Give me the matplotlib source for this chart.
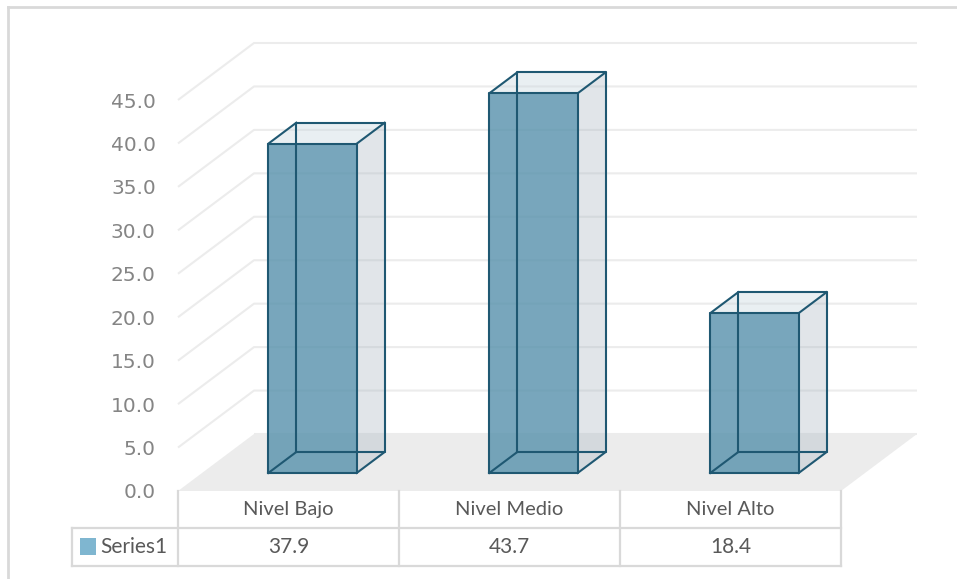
import numpy as np
import matplotlib.pyplot as plt
from matplotlib.patches import Polygon, Rectangle
from matplotlib.lines import Line2D

categories = ['Nivel Bajo', 'Nivel Medio', 'Nivel Alto']
values = [37.9, 43.7, 18.4]
series_name = 'Series1'
yticks = np.arange(0, 50, 5)

W, H = 957, 579
fig = plt.figure(figsize=(W / 100, H / 100), dpi=100)

# front plane of the plot, in pixels
x0, x1 = 178, 841
y0, y1 = 491, 100          # value 0 and value 45
ax = fig.add_axes([x0 / W, 1 - y0 / H, (x1 - x0) / W, (y0 - y1) / H])
ax.set_xlim(0, 3)
ax.set_ylim(0, 45)
for s in ax.spines.values():
    s.set_visible(False)
ax.set_xticks([])
ax.set_yticks(yticks)
ax.set_yticklabels([f'{v:.1f}' for v in yticks])
ax.tick_params(axis='y', length=0, pad=16, labelsize=14.5, labelcolor='#858585')
ax.patch.set_alpha(0)

# data units per pixel
xs = 3 / (x1 - x0)
ys = 45 / (y0 - y1)
DX, DY = 76 * xs, 57 * ys   # full depth of floor


def P(x, y, z):
    return (x + z * DX, y + z * DY)


grid_c = '#ececec'
# floor
ax.add_patch(Polygon([P(0, 0, 0), P(3, 0, 0), P(3, 0, 1), P(0, 0, 1)],
                     closed=True, fc='#ececec', ec='none', clip_on=False, zorder=1))
# gridlines: side wall diagonals + back wall
for v in yticks:
    pts = [P(0, v, 0), P(0, v, 1), P(3, v, 1)]
    if v == 0:
        pts = [P(0, v, 1), P(3, v, 1)]
    ax.plot(*zip(*pts), color=grid_c, lw=1.5, clip_on=False, zorder=2,
            solid_capstyle='butt')

# bars
bw = 0.4
zf, zb = 0.316, 0.684
edge = '#1f5872'
for i, v in enumerate(values):
    l, r = i + 0.5 - bw / 2, i + 0.5 + bw / 2
    front = [P(l, 0, zf), P(r, 0, zf), P(r, v, zf), P(l, v, zf)]
    side = [P(r, 0, zf), P(r, 0, zb), P(r, v, zb), P(r, v, zf)]
    top = [P(l, v, zf), P(r, v, zf), P(r, v, zb), P(l, v, zb)]
    ax.add_patch(Polygon(side, fc='#aab6c1', alpha=0.35, ec='none', clip_on=False, zorder=3))
    ax.add_patch(Polygon(top, fc='#c9d7df', alpha=0.4, ec='none', clip_on=False, zorder=3))
    ax.add_patch(Polygon(front, fc='#5a93ad', alpha=0.82, ec='none', clip_on=False, zorder=4))
    edges = []
    for z in (zf, zb):
        edges.append([P(l, 0, z), P(r, 0, z), P(r, v, z), P(l, v, z), P(l, 0, z)])
    for xx in (l, r):
        for yy in (0, v):
            edges.append([P(xx, yy, zf), P(xx, yy, zb)])
    for e in edges:
        ax.plot(*zip(*e), color=edge, lw=1.5, clip_on=False, zorder=5)

# data table
tc = '#d9d9d9'
tx = '#595959'
r1 = (528 - y0) * ys
r2 = (566 - y0) * ys
lx = (72 - x0) * xs
tkw = dict(color=tc, lw=1.6, clip_on=False, zorder=2)
for c in range(4):
    ax.plot([c, c], [0, -r2], **tkw)
ax.plot([lx, 3], [-r1, -r1], **tkw)
ax.plot([lx, 3], [-r2, -r2], **tkw)
ax.plot([lx, lx], [-r1, -r2], **tkw)
for i, (cat, v) in enumerate(zip(categories, values)):
    ax.text(i + 0.5, -r1 / 2, cat, ha='center', va='center', fontsize=14.5,
            color=tx, family='Lato')
    ax.text(i + 0.5, -(r1 + r2) / 2, f'{v:.1f}', ha='center', va='center',
            fontsize=15, color=tx, family='Lato')
ax.add_patch(Rectangle(((80 - x0) * xs, -(555 - y0) * ys), 16 * xs, 17 * ys,
                       fc='#7fb6d0', ec='none', clip_on=False))
ax.text((100 - x0) * xs, -(r1 + r2) / 2, series_name, ha='left', va='center',
        fontsize=15, color=tx, family='Lato')

# chart border (top and left)
fig.add_artist(Line2D([8 / W, 1], [1 - 7 / H, 1 - 7 / H], color='#d9d9d9', lw=2))
fig.add_artist(Line2D([8 / W, 8 / W], [0, 1 - 7 / H], color='#d9d9d9', lw=2))

fig.savefig('out.png', dpi=100, facecolor='white')
